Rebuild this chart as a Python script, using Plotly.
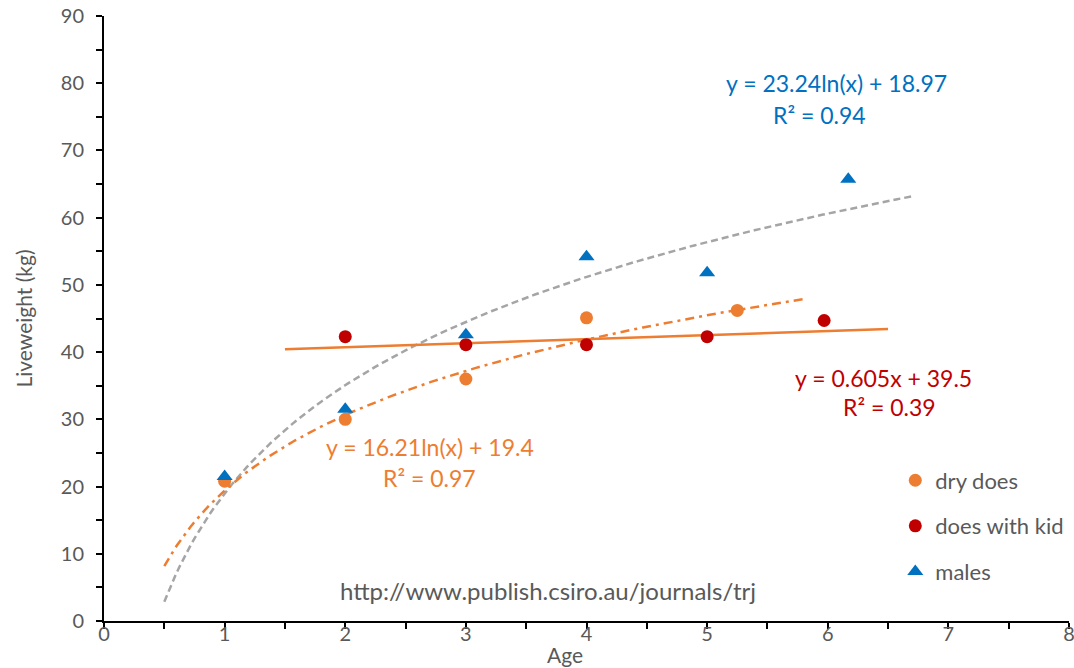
import numpy as np
import plotly.graph_objects as go

# Data
dry_age = [1, 2, 3, 4, 5.25]
dry_wt = [20.8, 30.0, 36.0, 45.1, 46.2]

kid_age = [2, 3, 4, 5, 5.97]
kid_wt = [42.3, 41.1, 41.1, 42.3, 44.7]

male_age = [1, 2, 3, 4, 5, 6.17]
male_wt = [21.5, 31.5, 42.6, 54.2, 51.8, 65.7]

# Trendline coefficients (as displayed on the chart)
male_log = (23.24, 18.97)   # y = a ln(x) + b
dry_log = (16.21, 19.4)
kid_lin = (0.605, 39.5)     # y = m x + c

ORANGE = "#ED7D31"
RED = "#C00000"
BLUE = "#0070C0"
GREY = "#A5A5A5"
TXT = "#595959"
FONT = "Lato"

fig = go.Figure()

# trendlines
xm = np.linspace(0.5, 6.7, 200)
fig.add_trace(go.Scatter(x=xm, y=male_log[0] * np.log(xm) + male_log[1], mode="lines",
                         line=dict(color=GREY, width=2.5, dash="7px,4px"), showlegend=False, hoverinfo="skip"))
xd = np.linspace(0.5, 5.8, 200)
fig.add_trace(go.Scatter(x=xd, y=dry_log[0] * np.log(xd) + dry_log[1], mode="lines",
                         line=dict(color=ORANGE, width=2.5, dash="9px,5px,3px,5px"), showlegend=False, hoverinfo="skip"))
xl = np.array([1.5, 6.5])
fig.add_trace(go.Scatter(x=xl, y=kid_lin[0] * xl + kid_lin[1], mode="lines",
                         line=dict(color=ORANGE, width=2.5), showlegend=False, hoverinfo="skip"))

# points
fig.add_trace(go.Scatter(x=dry_age, y=dry_wt, mode="markers", name="dry does", legendgroup="a",
                         marker=dict(color=ORANGE, size=13, symbol="circle")))
fig.add_trace(go.Scatter(x=kid_age, y=kid_wt, mode="markers", name="does with kid", legendgroup="b",
                         marker=dict(color=RED, size=13, symbol="circle")))
fig.add_trace(go.Scatter(x=male_age, y=male_wt, mode="markers", name="males", legendgroup="c",
                         marker=dict(color=BLUE, size=14, symbol="triangle-up")))

ann = []
def add_text(x, y, text, color, size=23):
    ann.append(dict(x=x, y=y, xref="x", yref="y", text=text, showarrow=False,
                    font=dict(family=FONT, size=size, color=color)))

add_text(6.07, 80.0, "y = 23.24ln(x) + 18.97", BLUE)
add_text(5.93, 75.3, "R² = 0.94", BLUE)
add_text(6.46, 36.2, "y = 0.605x + 39.5", RED)
add_text(6.51, 31.8, "R² = 0.39", RED)
add_text(2.70, 25.9, "y = 16.21ln(x) + 19.4", ORANGE)
add_text(2.70, 21.3, "R² = 0.97", ORANGE)
add_text(3.68, 4.6, "http://www.publish.csiro.au/journals/trj", TXT, 24)
ann.append(dict(x=(565 - 104) / 120.6, y=-0.056, xref="x", yref="paper", text="Age",
                showarrow=False, yanchor="middle", font=dict(family=FONT, size=21, color=TXT)))

fig.update_layout(
    width=1074, height=668,
    margin=dict(l=104, r=5, t=16, b=47),
    plot_bgcolor="white", paper_bgcolor="white",
    font=dict(family=FONT, size=20, color=TXT),
    annotations=ann,
    showlegend=True,
    legend=dict(x=0.82, y=0.267, xanchor="left", yanchor="top", traceorder="grouped",
                tracegroupgap=14, font=dict(family=FONT, size=22, color=TXT),
                bgcolor="rgba(0,0,0,0)", itemwidth=30),
    xaxis=dict(range=[0, 8], dtick=1, tick0=0, showgrid=False, zeroline=False,
               showline=True, linecolor="black", linewidth=2, automargin=False,
               ticks="outside", ticklen=6, tickwidth=2, tickcolor="black",
               minor=dict(dtick=0.5, ticks="outside", ticklen=6, tickwidth=2, tickcolor="black"),
               ticklabeloverflow="allow", ticklabelstandoff=-12,
               tickfont=dict(family=FONT, size=20, color=TXT)),
    yaxis=dict(range=[0, 90], dtick=10, tick0=0, showgrid=False, zeroline=False,
               showline=True, linecolor="black", linewidth=2, automargin=False,
               ticks="outside", ticklen=6, tickwidth=2, tickcolor="black",
               minor=dict(dtick=5, ticks="outside", ticklen=6, tickwidth=2, tickcolor="black"),
               ticklabelstandoff=8,
               tickfont=dict(family=FONT, size=20, color=TXT),
               title=dict(text="Liveweight (kg)", font=dict(family=FONT, size=21, color=TXT), standoff=22)),
)

fig.write_html("out.html")
